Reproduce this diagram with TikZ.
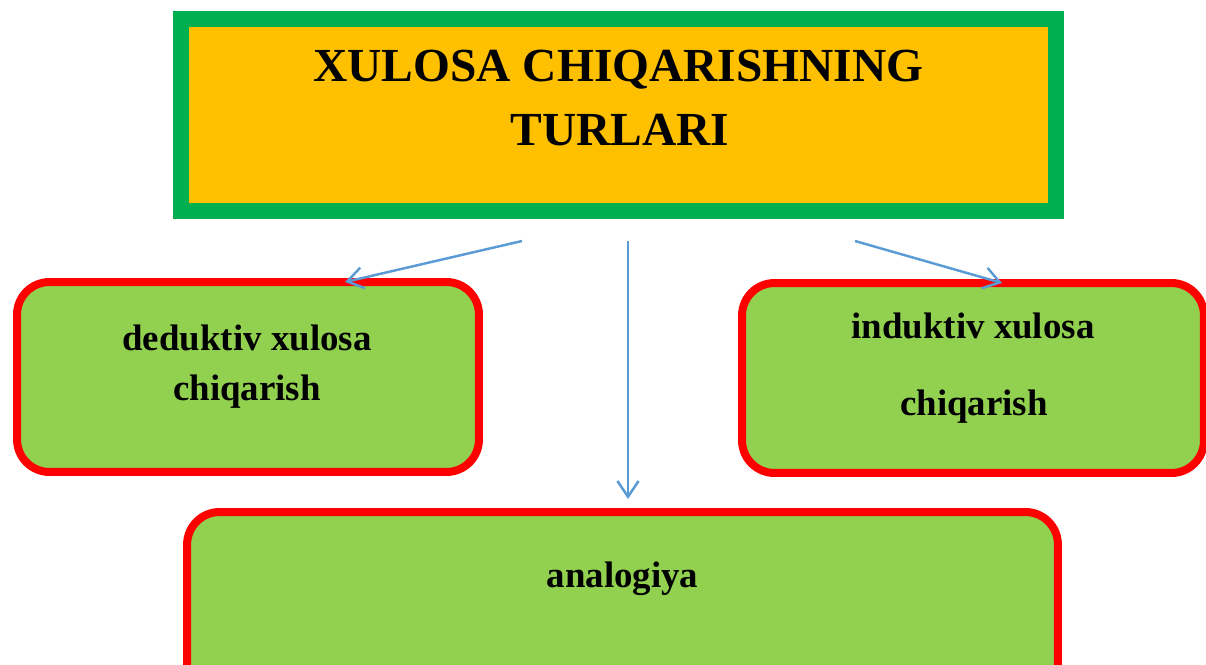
\documentclass[tikz,border=0pt]{standalone}
\usepackage{fontspec}
\setmainfont{Liberation Serif}
\usetikzlibrary{arrows.meta}

\definecolor{framegreen}{HTML}{00B050}
\definecolor{titleorange}{HTML}{FFC000}
\definecolor{boxgreen}{HTML}{92D050}
\definecolor{boxred}{HTML}{FF0000}
\definecolor{linkblue}{HTML}{5B9BD5}

\tikzset{
  titlebox/.style={draw=framegreen, fill=titleorange, line width=0.32cm,
    minimum width=17.5cm, minimum height=3.84cm, outer sep=0pt},
  typebox/.style={draw=boxred, fill=boxgreen, line width=0.16cm,
    rounded corners=0.65cm, minimum width=9.24cm, minimum height=3.8cm, outer sep=0pt},
  titletext/.style={anchor=base, inner sep=0pt, font=\fontsize{27}{32}\selectfont\bfseries},
  boxtext/.style={anchor=base, inner sep=0pt, font=\fontsize{21}{25}\selectfont\bfseries},
  link/.style={draw=linkblue, line width=1.4pt, -{Straight Barb[length=9pt,width=12pt]}}
}

\begin{document}
\begin{tikzpicture}[x=0.02cm,y=-0.02cm]
  \useasboundingbox (0,0) rectangle (1206,665);

  % heading
  \node[titlebox] (title) at (618.5,115) {};
  \node[titletext] (title1) at (618.5,82) {XULOSA CHIQARISHNING};
  \node[titletext] (title2) at (620,146) {TURLARI};

  % the three kinds
  \node[typebox] (ded) at (248,377) {};
  \node[boxtext] (ded1) at (247,350) {deduktiv xulosa};
  \node[boxtext] (ded2) at (247,400) {chiqarish};

  \node[typebox] (ind) at (973,378) {};
  \node[boxtext] (ind1) at (973,338) {induktiv xulosa};
  \node[boxtext] (ind2) at (974,415) {chiqarish};

  \node[typebox, minimum width=17.42cm] (ana) at (622.5,607) {};
  \node[boxtext] (ana1) at (622.5,587) {analogiya};

  % arrows
  \coordinate (fromL) at (522,241);
  \coordinate (fromM) at (628,241);
  \coordinate (fromR) at (855,241);
  \draw[link] (fromL) -- (ded.north -| 345,0);
  \draw[link, shorten >=0.26cm] (fromM) -- (ana.north -| fromM);
  \draw[link] (fromR) -- (ind.north -| 1002,0);
\end{tikzpicture}
\end{document}
